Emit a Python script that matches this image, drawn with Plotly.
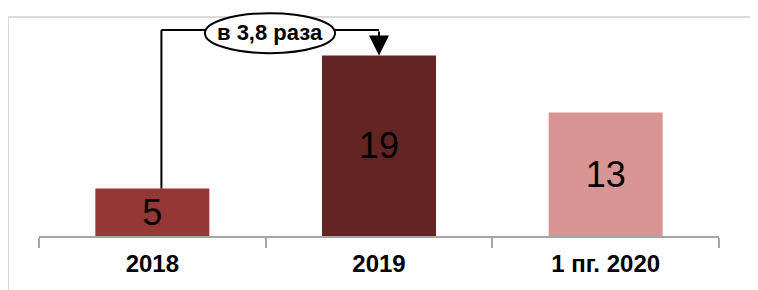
import plotly.graph_objects as go

categories = ["2018", "2019", "1 пг. 2020"]
values = [5, 19, 13]
colors = ["#953735", "#632523", "#D99594"]
growth_label = "в 3,8 раза"

fig = go.Figure()
fig.add_trace(go.Bar(
    x=categories, y=values,
    marker=dict(color=colors, line=dict(width=0)),
    text=[str(v) for v in values],
    textposition="inside", insidetextanchor="middle",
    constraintext="none",
    textfont=dict(family="Liberation Sans, Arial", size=36, color="black"),
    width=0.503,
    hoverinfo="skip",
))

# frame (top and left edges visible)
fig.add_shape(type="line", xref="paper", yref="paper", x0=-0.0456, x1=1.1, y0=0.9605, y1=0.9605,
              line=dict(color="#D9D9D9", width=2), layer="below")
fig.add_shape(type="line", xref="paper", yref="paper", x0=-0.0456, x1=-0.0456, y0=0.9605, y1=-0.3,
              line=dict(color="#D9D9D9", width=2), layer="below")

# connector from 2018 bar to 2019 bar
conn_y = 21.68
fig.add_shape(type="line", xref="x", yref="y", x0=0.04, x1=0.04, y0=values[0], y1=conn_y,
              line=dict(color="black", width=2))
fig.add_shape(type="line", xref="x", yref="y", x0=0.04, x1=1.0, y0=conn_y, y1=conn_y,
              line=dict(color="black", width=2))
fig.add_annotation(x=1, y=values[1], ax=1, ay=conn_y, xref="x", yref="y", axref="x", ayref="y",
                   text="", showarrow=True, arrowhead=2, arrowsize=2.0, arrowwidth=2,
                   arrowcolor="black", standoff=0)
fig.add_shape(type="circle", xref="x", yref="y", x0=0.232, x1=0.806,
              ysizemode="pixel", yanchor=21.35, y0=-20, y1=20,
              line=dict(color="black", width=2), fillcolor="white", layer="above")
fig.add_annotation(x=0.519, y=21.45, xref="x", yref="y", text="<b>" + growth_label + "</b>",
                   showarrow=False, font=dict(family="Liberation Sans, Arial", size=22, color="black"))

fig.update_layout(
    width=750, height=282,
    margin=dict(l=31, r=39, t=0, b=54),
    paper_bgcolor="white", plot_bgcolor="white",
    showlegend=False,
    bargap=0.497,
    xaxis=dict(
        type="category",
        showline=True, linecolor="#A6A6A6", linewidth=2,
        ticks="outside", tickson="boundaries", ticklen=10, tickcolor="#A6A6A6", tickwidth=2,
        showgrid=False,
        tickfont=dict(family="Liberation Sans, Arial", size=24, color="black"),
        tickprefix="<b>", ticksuffix="</b>",
        ticklabelstandoff=5,
        fixedrange=True,
    ),
    yaxis=dict(range=[0, 24], visible=False, showgrid=False, fixedrange=True),
)

fig.write_html("out.html")
